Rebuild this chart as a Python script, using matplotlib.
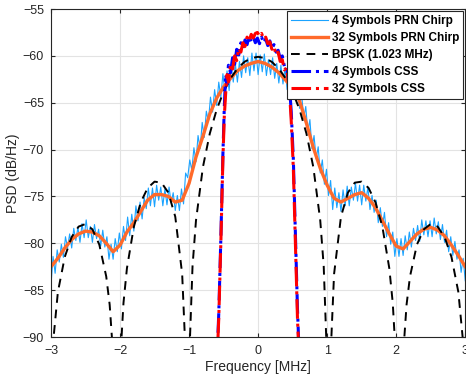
import numpy as np
import matplotlib
matplotlib.use('Agg')
import matplotlib.pyplot as plt

plt.rcParams['font.family'] = ['Liberation Sans', 'DejaVu Sans']

f_prn4 = np.round(np.arange(-3.0, 3.0001, 0.03), 2)
psd_prn4 = [
    -84.5, -81.4, -83.2, -80.7, -82.0, -80.1, -81.5, -79.3, -80.5, -79.0,
    -80.5, -78.4, -79.7, -78.3, -79.9, -77.9, -79.4, -77.5, -79.4, -78.2,
    -79.9, -78.0, -79.5, -78.5, -80.3, -78.6, -80.4, -79.3, -81.7, -80.1,
    -81.7, -79.5, -80.9, -78.9, -80.6, -78.2, -79.7, -77.2, -79.2, -76.9,
    -78.7, -76.0, -77.6, -75.6, -77.4, -75.1, -76.3, -74.1, -76.0, -74.1,
    -76.1, -73.8, -75.4, -74.0, -76.0, -74.2, -75.9, -74.0, -75.7, -74.6,
    -76.5, -74.9, -76.5, -74.2, -75.8, -72.5, -73.0, -71.1, -72.2, -69.8,
    -71.3, -68.5, -69.9, -67.1, -68.7, -65.9, -67.0, -64.4, -66.0, -63.6,
    -65.3, -62.8, -64.4, -61.9, -64.0, -61.6, -63.7, -61.0, -62.8, -60.8,
    -62.8, -60.6, -62.3, -60.0, -61.8, -60.2, -62.1, -59.7, -61.6, -59.7,
    -62.0, -59.9, -61.7, -59.8, -62.1, -60.4, -62.0, -60.2, -62.4, -60.8,
    -62.9, -61.0, -63.0, -61.3, -63.6, -61.7, -64.2, -62.5, -64.5, -63.0,
    -65.6, -64.0, -66.7, -65.4, -68.1, -66.8, -69.9, -68.5, -71.0, -69.7,
    -72.5, -71.1, -73.7, -72.1, -74.9, -73.3, -76.4, -74.1, -76.2, -74.6,
    -76.6, -74.3, -76.0, -73.9, -76.0, -74.0, -75.4, -73.6, -75.5, -73.8,
    -75.9, -73.8, -75.5, -74.0, -76.4, -74.9, -76.7, -75.4, -77.8, -76.2,
    -78.2, -76.7, -79.3, -77.8, -80.1, -78.8, -81.4, -79.5, -81.4, -79.5,
    -81.3, -79.2, -80.7, -78.8, -80.4, -78.4, -79.7, -78.1, -79.8, -77.5,
    -79.1, -77.6, -79.3, -77.6, -79.3, -77.3, -79.0, -77.7, -79.6, -78.0,
    -79.9, -78.6, -80.9, -79.3, -81.3, -79.8, -81.7, -80.7, -83.1, -81.6,
    -84.0,
]

# 32 symbols PRN chirp, every 0.1 MHz
f_prn32 = np.round(np.arange(-3.0, 3.0001, 0.1), 1)
psd_prn32 = [
    -82.5, -81.6, -80.5, -79.6, -79.0, -78.7, -78.8, -79.2, -80.0, -80.9,
    -80.2, -78.8, -77.8, -76.6, -75.4, -74.8, -74.8, -75.0, -75.6, -75.4,
    -73.6, -70.8, -68.6, -66.2, -64.5, -63.3, -62.4, -61.6, -61.1, -60.8,
    -60.6, -60.8, -61.2, -61.8, -62.6, -63.5, -64.8, -67.2, -69.8, -72.0,
    -73.8, -75.2, -75.6, -75.2, -74.8, -74.6, -75.2, -76.2, -77.6, -79.0,
    -80.3, -80.6, -79.8, -79.0, -78.5, -78.3, -78.6, -79.2, -80.2, -81.3,
    -82.5,
]

# BPSK (1.023 MHz) reference spectrum
f_bpsk_pos = [0.0, 0.1, 0.2, 0.3, 0.4, 0.5, 0.6, 0.7, 0.8, 0.9, 0.95, 1.0,
              1.023, 1.05, 1.1, 1.2, 1.3, 1.4, 1.5, 1.6, 1.7, 1.8, 1.9, 1.95,
              2.0, 2.046, 2.1, 2.15, 2.2, 2.3, 2.4, 2.5, 2.6, 2.7, 2.8, 2.9, 3.0]
psd_bpsk_pos = [-60.1, -60.24, -60.65, -61.37, -62.41, -63.83, -65.73, -68.29,
                -71.89, -77.57, -82.45, -92.87, -110.0, -91.92, -83.28, -77.16,
                -74.60, -73.53, -73.42, -74.10, -75.63, -78.24, -82.67, -86.37,
                -92.88, -110.0, -91.94, -86.55, -83.53, -80.14, -78.51, -77.94,
                -78.22, -79.33, -81.45, -85.20, -92.96]

# CSS spectra
f_css = [-0.60, -0.57, -0.54, -0.51, -0.49, -0.47, -0.45, -0.43, -0.40, -0.37,
         -0.34, -0.31, -0.28, -0.25, -0.22, -0.19, -0.16, -0.13, -0.10, -0.07,
         -0.04, -0.01, 0.02, 0.05, 0.08, 0.11, 0.14, 0.17, 0.20, 0.23, 0.26,
         0.29, 0.32, 0.35, 0.38, 0.41, 0.44, 0.46, 0.48, 0.51, 0.54, 0.57, 0.60]
psd_css4 = [-93.0, -87.5, -79.5, -70.5, -65.5, -62.0, -63.0, -61.0, -61.8, -60.2,
            -60.9, -59.3, -59.9, -58.6, -59.2, -58.3, -58.8, -57.9, -58.5, -58.0,
            -58.6, -58.1, -58.7, -58.0, -58.6, -58.2, -58.9, -58.4, -59.2, -58.8,
            -59.6, -59.4, -60.3, -60.0, -61.1, -61.0, -62.5, -63.8, -66.0, -71.0,
            -79.0, -87.0, -93.0]
psd_css32 = [-93.5, -88.0, -80.0, -71.0, -66.5, -64.0, -62.0, -62.8, -61.0, -61.4,
             -60.0, -60.5, -59.2, -59.6, -58.6, -59.0, -58.0, -58.4, -57.7, -58.1,
             -57.6, -57.5, -57.9, -57.6, -58.2, -58.0, -58.7, -58.5, -59.3, -59.0,
             -59.9, -59.6, -60.6, -60.4, -61.5, -61.3, -62.8, -64.5, -67.0, -72.0,
             -80.0, -88.0, -93.5]

labels = ['4 Symbols PRN Chirp', '32 Symbols PRN Chirp', 'BPSK (1.023 MHz)',
          '4 Symbols CSS', '32 Symbols CSS']

f_bpsk = [-v for v in f_bpsk_pos[:0:-1]] + f_bpsk_pos
psd_bpsk = psd_bpsk_pos[:0:-1] + psd_bpsk_pos

fig = plt.figure(figsize=(4.66, 3.82), dpi=100)
ax = fig.add_axes([0.1094, 0.1178, 0.889, 0.8586])

ax.plot(f_prn4, psd_prn4, color='#1aa3ff', lw=0.8, label=labels[0])
ax.plot(f_prn32, psd_prn32, color='#ff6a2a', lw=2.4, label=labels[1])
ax.plot(f_bpsk, psd_bpsk, color='k', lw=1.4, dashes=(4.5, 3.5), label=labels[2])
ax.plot(f_css, psd_css4, color='#0000ff', lw=2.2, ls='-.', label=labels[3])
ax.plot(f_css, psd_css32, color='#ff0000', lw=2.2, ls='-.', label=labels[4])

ax.set_xlim(-3, 3)
ax.set_ylim(-90, -55)
ax.set_xticks(np.arange(-3, 4, 1))
ax.set_yticks(np.arange(-90, -54, 5))
ax.grid(True, color='#e3e3e3', lw=0.8)
ax.set_axisbelow(True)
ax.tick_params(direction='in', top=True, right=True, labelsize=9, length=3,
               color='#262626', labelcolor='#262626')
ax.tick_params(axis='x', pad=6)
ax.tick_params(axis='y', pad=5)
for s in ax.spines.values():
    s.set_color('#262626')
    s.set_linewidth(0.8)

ax.set_xlabel('Frequency [MHz]', fontsize=10, color='#262626', labelpad=2)
ax.set_ylabel('PSD (dB/Hz)', fontsize=10, color='#262626', labelpad=2)

leg = ax.legend(loc='upper right', bbox_to_anchor=(1.0, 1.0),
                prop={'weight': 'bold', 'size': 8.5}, frameon=True, fancybox=False,
                edgecolor='#262626', framealpha=1, borderpad=0.35, labelspacing=0.42,
                handlelength=3.2, handletextpad=0.3, borderaxespad=0.15)
leg.get_frame().set_linewidth(0.8)

fig.savefig('out.png', dpi=100)
